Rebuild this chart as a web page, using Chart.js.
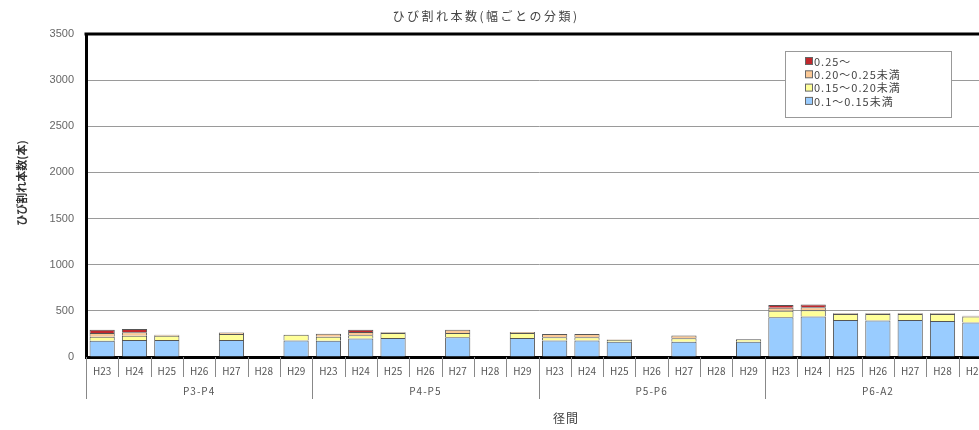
<!DOCTYPE html>
<html>
<head>
<meta charset="utf-8">
<script src="https://cdn.jsdelivr.net/npm/chart.js@4"></script>
<style>
html,body{margin:0;padding:0;background:#fff;overflow:hidden;width:979px;height:430px;}
#wrap{position:relative;width:1000px;height:430px;}
</style>
</head>
<body>
<div id="wrap"><canvas id="c"></canvas></div>
<script>
const groups = ['P3-P4','P4-P5','P5-P6','P6-A2'];
const years = ['H23','H24','H25','H26','H27','H28','H29'];
const seriesNames = ['0.1～0.15未満','0.15～0.20未満','0.20～0.25未満','0.25～'];
const seriesColors = ['#99ccff','#ffff99','#fbc996','#c0282d'];
const w010 = [175,185,185,0,185,0,180, 177,200,205,0,215,0,205, 178,180,165,0,165,0,166, 430,440,400,395,400,390,375];
const w015 = [45,45,45,0,65,0,60, 43,35,55,0,45,0,55, 37,35,20,0,38,0,25, 70,67,65,70,65,75,65];
const w020 = [40,38,10,0,15,0,0, 33,35,8,0,35,0,10, 35,35,5,0,29,0,0, 35,33,8,8,8,8,7];
const w025 = [35,36,0,0,0,0,0, 0,25,0,0,0,0,0, 0,0,0,0,0,0,0, 28,30,0,0,0,0,0];
const yTicks = [0,500,1000,1500,2000,2500,3000,3500];
const titleText = 'ひび割れ本数(幅ごとの分類)';
const yTitle = 'ひび割れ本数(本)';
const xTitle = '径間';

const labels = [];
groups.forEach(g => years.forEach(y => labels.push(g + ' ' + y)));
const seriesData = [w010, w015, w020, w025];
const FONT = '"Noto Sans CJK JP","Noto Sans",sans-serif';

const datasets = seriesData.map((d, i) => ({
  label: seriesNames[i],
  data: d,
  backgroundColor: seriesColors[i],
  borderColor: '#555',
  borderWidth: ctx => (ctx.raw ? { top: 1, left: 1, right: 1, bottom: 0 } : 0),
  borderSkipped: false,
  barPercentage: 0.78,
  categoryPercentage: 1.0
}));

const decor = {
  id: 'decor',
  afterDraw(chart) {
    const c = chart.ctx, a = chart.chartArea;
    const n = labels.length;
    const cw = (a.right - a.left) / n;
    c.save();
    c.strokeStyle = '#888';
    c.lineWidth = 1;
    for (let i = 0; i <= n; i++) {
      const x = Math.round(a.left + i * cw) + 0.5;
      const isGroup = i % years.length === 0;
      c.beginPath();
      c.moveTo(x, a.bottom);
      c.lineTo(x, a.bottom + (isGroup ? 42 : 20));
      c.stroke();
    }
    c.fillStyle = '#555';
    c.font = '10px ' + FONT;
    c.textAlign = 'center';
    c.textBaseline = 'middle';
    c.letterSpacing = '1px';
    groups.forEach((g, gi) => {
      const x0 = a.left + gi * years.length * cw;
      const x1 = x0 + years.length * cw;
      c.fillText(g, (x0 + x1) / 2, a.bottom + 34);
    });
    c.letterSpacing = '0px';
    c.strokeStyle = '#000';
    c.lineWidth = 3;
    c.beginPath();
    c.moveTo(a.left - 1.5, a.top);
    c.lineTo(chart.width, a.top);
    c.stroke();
    c.fillStyle = '#444';
    c.font = '12px ' + FONT;
    c.textAlign = 'center';
    c.letterSpacing = '2.5px';
    c.fillText(titleText, 486, 16);
    c.font = '12px ' + FONT;
    c.letterSpacing = '1px';
    c.fillText(xTitle, 566, 418);
    c.letterSpacing = '0px';
    c.save();
    c.translate(22, 183);
    c.rotate(-Math.PI / 2);
    c.font = 'bold 11px ' + FONT;
    c.fillStyle = '#333';
    c.fillText(yTitle, 0, 0);
    c.restore();
    const lx = 785, ly = 51, lw = 166, lh = 66;
    c.fillStyle = '#fff';
    c.fillRect(lx, ly, lw, lh);
    c.strokeStyle = '#999';
    c.lineWidth = 1;
    c.strokeRect(lx + 0.5, ly + 0.5, lw, lh);
    c.font = '11px ' + FONT;
    c.textAlign = 'left';
    c.letterSpacing = '1px';
    for (let k = 0; k < seriesNames.length; k++) {
      const si = seriesNames.length - 1 - k;
      const y = 61 + k * 13.3;
      c.fillStyle = seriesColors[si];
      c.fillRect(805, y - 3.5, 7, 7);
      c.strokeStyle = '#666';
      c.strokeRect(805.5, y - 3.5, 7, 7);
      c.fillStyle = '#444';
      c.fillText(seriesNames[si], 814, y + 0.5);
    }
    c.restore();
  }
};

new Chart(document.getElementById('c'), {
  type: 'bar',
  data: { labels, datasets },
  options: {
    responsive: true,
    maintainAspectRatio: false,
    animation: false,
    layout: { padding: { top: 34, right: 9, left: 0, bottom: 0 } },
    plugins: { legend: { display: false }, title: { display: false }, tooltip: { enabled: false } },
    scales: {
      x: {
        stacked: true,
        afterFit: s => { s.height = 73; },
        grid: { display: false, drawTicks: false },
        border: { display: true, color: '#000', width: 3 },
        ticks: {
          autoSkip: false,
          maxRotation: 0,
          padding: 8,
          color: '#555',
          font: { size: 10, family: FONT },
          callback: (v, i) => years[i % years.length]
        }
      },
      y: {
        stacked: true,
        min: 0,
        max: 3500,
        afterFit: s => { s.width = 86; },
        afterBuildTicks: s => { s.ticks = yTicks.map(v => ({ value: v })); },
        grid: {
          color: ctx => (ctx.tick && ctx.tick.value === 3500 ? 'rgba(0,0,0,0)' : '#9a9a9a'),
          lineWidth: 1,
          drawTicks: false
        },
        border: { display: true, color: '#000', width: 3 },
        ticks: {
          padding: 12,
          color: '#666',
          font: { size: 11, family: '"Liberation Sans",Arial,sans-serif' },
          callback: v => String(v)
        }
      }
    }
  },
  plugins: [decor]
});
</script>
</body>
</html>
